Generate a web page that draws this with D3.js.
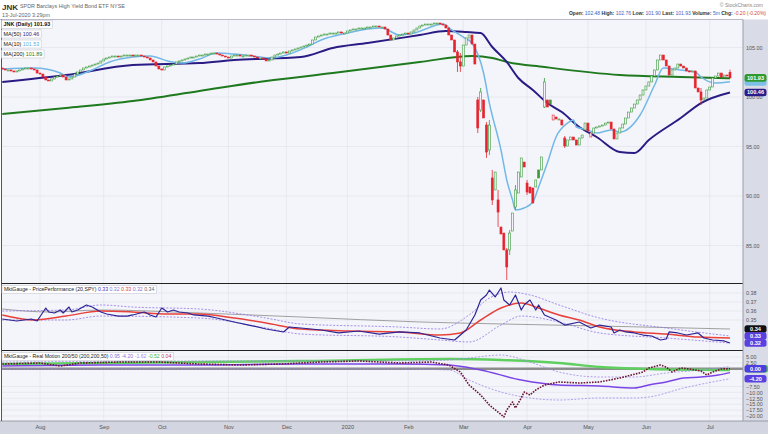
<!DOCTYPE html>
<html>
<head>
<meta charset="utf-8">
<title>JNK</title>
<script src="https://cdn.jsdelivr.net/npm/d3@7/dist/d3.min.js"></script>
<style>
  body { margin: 0; background: #fff; }
  svg { display: block; font-family: "Liberation Sans", Arial, sans-serif; }
</style>
</head>
<body>
<svg id="chart" width="768" height="434"></svg>
<script>
// ---- data (trading day index 0 = 15-Jul-2019, 251 = 13-Jul-2020) ----
const monthLabels = ["Aug", "Sep", "Oct", "Nov", "Dec", "2020", "Feb", "Mar", "Apr", "May", "Jun", "Jul"];
const monthStarts = [13, 35, 55, 78, 98, 119, 140, 159, 181, 202, 222, 244];

const opens = [
  102.93,102.83,102.73,102.73,102.63,102.53,102.63,102.73,102.83,102.93,102.93,102.83,102.73,
  102.42,102.32,102.02,101.72,101.62,
  101.82,102.02,102.12,102.22,102.02,101.72,101.82,
  102.02,102.32,102.53,102.73,102.93,103.03,103.13,103.23,103.33,103.43,
  103.64,103.84,103.94,104.04,104.14,104.14,104.04,104.14,104.24,104.24,104.24,104.14,104.24,104.24,104.14,
  104.04,103.94,103.74,103.54,103.13,102.83,102.73,103.03,
  103.13,103.23,103.33,103.54,103.64,
  103.74,103.84,103.94,104.04,104.04,104.14,104.24,104.24,104.34,104.34,104.44,104.44,
  104.34,104.24,104.14,104.04,
  103.94,104.14,104.24,104.24,104.14,104.14,104.24,104.24,104.14,104.04,
  103.94,103.94,103.84,103.64,
  103.74,104.04,104.24,104.34,104.44,104.55,104.44,
  104.65,104.75,104.85,104.95,105.05,105.15,105.25,
  105.35,105.76,106.06,106.16,106.26,106.36,106.36,
  106.46,106.46,106.46,106.57,106.46,
  106.46,106.67,106.77,106.87,106.87,106.97,106.97,
  106.97,107.07,107.07,107.17,107.17,107.07,
  107.07,106.87,106.26,105.76,
  105.96,106.16,106.26,106.36,106.46,
  106.36,106.57,106.77,106.97,107.17,107.27,107.37,107.37,107.37,107.47,107.47,107.37,
  107.27,106.97,106.26,105.76,104.55,103.54,103.13,105.25,105.96,106.26,105.35,
  99.70,98.69,99.70,97.17,94.65,91.82,90.61,89.60,86.87,86.26,84.55,84.55,86.46,88.89,90.30,91.92,93.43,91.31,90.91,90.81,90.91,92.63,92.63,98.99,99.70,99.70,
  97.68,97.98,97.78,97.68,95.86,95.05,95.66,95.96,95.66,95.15,95.86,96.67,97.37,95.96,96.36,96.87,96.97,97.07,97.17,97.37,97.47,96.77,95.76,96.36,96.87,
  97.27,97.88,98.48,98.89,99.29,99.70,100.20,100.71,101.11,101.52,102.12,102.73,103.74,104.24,103.74,103.13,102.22,102.73,102.93,
  103.33,103.13,102.93,102.63,102.53,102.63,100.91,100.51,99.70,99.90,100.71,101.01,101.92,102.12,102.42,102.02,102.22,102.48
];

const closes = [
  102.83,102.73,102.73,102.63,102.53,102.63,102.73,102.83,102.93,102.93,102.83,102.73,102.42,
  102.32,102.02,101.72,101.62,101.82,
  102.02,102.12,102.22,102.02,101.72,101.82,102.02,
  102.32,102.53,102.73,102.93,103.03,103.13,103.23,103.33,103.43,103.64,
  103.84,103.94,104.04,104.14,104.14,104.04,104.14,104.24,104.24,104.24,104.14,104.24,104.24,104.14,104.04,
  103.94,103.74,103.54,103.13,102.83,102.73,103.03,103.13,
  103.23,103.33,103.54,103.64,103.74,
  103.84,103.94,104.04,104.04,104.14,104.24,104.24,104.34,104.34,104.44,104.44,104.34,
  104.24,104.14,104.04,103.94,
  104.14,104.24,104.24,104.14,104.14,104.24,104.24,104.14,104.04,103.94,
  103.94,103.84,103.64,103.74,
  104.04,104.24,104.34,104.44,104.55,104.44,104.65,
  104.75,104.85,104.95,105.05,105.15,105.25,105.35,
  105.76,106.06,106.16,106.26,106.36,106.36,106.46,
  106.46,106.46,106.57,106.46,106.46,
  106.67,106.77,106.87,106.87,106.97,106.97,106.97,
  107.07,107.07,107.17,107.17,107.07,107.07,
  106.87,106.26,105.76,105.96,
  106.16,106.26,106.36,106.46,106.36,
  106.57,106.77,106.97,107.17,107.27,107.37,107.37,107.37,107.47,107.47,107.37,107.27,
  106.97,106.26,105.76,104.55,103.54,103.13,105.25,105.96,106.26,105.35,103.33,
  96.87,100.51,97.88,94.44,97.17,89.60,92.42,88.38,86.16,84.55,82.83,86.26,88.28,90.61,92.42,93.84,92.93,90.40,90.30,89.29,91.62,91.82,93.94,101.52,98.99,99.29,
  98.18,97.78,97.78,97.17,95.05,95.66,95.96,95.66,95.15,95.86,96.16,97.37,96.57,96.36,96.87,96.97,97.07,97.17,97.37,97.47,96.77,95.76,96.36,96.87,97.27,
  97.88,98.48,98.89,99.29,99.70,100.20,100.71,101.11,101.52,102.12,102.73,103.74,104.24,103.74,103.13,102.22,102.73,102.93,103.33,
  103.13,102.93,102.63,102.53,102.63,100.91,100.51,99.70,99.90,100.71,101.01,101.92,102.12,102.42,102.02,102.22,102.13,101.93
];

// visible wicks only: [day, high, low]
const wicks = [
  [157, 104.75, 102.53], [158, 104.44, 102.53], [164, 100.00, 96.36], [165, 100.91, 98.48],
  [167, 97.47, 93.84], [168, 97.68, 94.14], [169, 92.63, 89.09], [171, 90.61, 86.87],
  [174, 84.75, 81.52], [175, 86.57, 84.04], [177, 91.11, 88.59], [181, 91.62, 90.10],
  [187, 101.92, 98.89], [194, 96.06, 94.85], [241, 100.91, 99.19], [251, 102.76, 101.90]
];

const ma10Day = [0,11,20,23,31,37,45,51,57,62,68,74,80,89,93,98,105,110,119,126,131,137,142,152,155,159,162,166,168,172,174,176,177,180,183,185,188,191,195,197,198,202,205,210,213,220,225,228,234,239,241,246,251];
const ma10Val = [102.83,102.93,102.42,102.02,102.73,103.54,104.04,104.14,103.64,103.43,103.84,104.44,104.34,104.04,103.94,104.24,105.05,105.76,106.46,106.87,106.97,106.26,106.46,107.37,106.77,106.06,105.45,102.42,99.39,94.65,91.62,89.60,88.59,88.79,89.39,90.91,93.33,95.96,97.37,97.68,96.97,96.67,96.36,96.67,96.46,98.18,101.21,102.93,102.73,102.53,102.02,101.41,101.53];

const ma50Day = [0,22,45,68,80,103,114,126,144,153,160,165,169,174,178,183,188,193,199,205,213,218,223,234,241,251];
const ma50Val = [101.52,102.22,103.23,103.43,103.74,104.04,104.95,105.45,106.26,106.67,106.57,106.46,105.05,103.54,101.92,100.71,99.39,98.48,96.97,95.96,94.44,94.34,95.66,97.88,99.39,100.46];

const ma200Day = [0,22,45,68,91,114,144,162,169,174,187,213,234,251];
const ma200Val = [98.28,98.89,99.60,100.61,101.62,102.42,103.54,104.14,103.94,103.54,103.03,102.22,102.02,101.89];

// MktGauge - PricePerformance (20,SPY)
const perfDay = [0,5,10,12,15,16,18,20,21,23,24,26,29,31,34,36,40,43,45,49,51,53,55,57,59,61,64,66,71,74,80,85,91,97,99,103,110,116,123,130,137,144,151,156,160,163,165,167,168,170,172,173,175,177,179,180,182,184,185,187,191,194,199,203,206,210,211,213,215,218,221,224,227,229,230,233,236,240,242,245,249,251];
const perfVal = [0.3511,0.3489,0.3511,0.3489,0.3633,0.3589,0.3578,0.3611,0.3578,0.3644,
  0.3589,0.3611,0.3667,0.3644,0.3589,0.3567,0.3544,0.3544,0.3556,0.3589,
  0.3556,0.3533,0.3633,0.3589,0.3611,0.3589,0.3578,0.3556,0.3544,0.3522,
  0.3478,0.3444,0.3400,0.3367,0.3422,0.3411,0.3389,0.3356,0.3378,0.3344,
  0.3367,0.3356,0.3300,0.3278,0.3389,0.3556,0.3722,0.3778,0.3833,0.3756,
  0.3856,0.3722,0.3667,0.3778,0.3611,0.3667,0.3722,0.3611,0.3667,0.3556,
  0.3500,0.3444,0.3478,0.3411,0.3444,0.3422,0.3356,0.3389,0.3367,0.3356,
  0.3333,0.3322,0.3278,0.3289,0.3367,0.3356,0.3333,0.3356,0.3300,0.3278,
  0.3267,0.3244];
const perfMaDay = [0,11,22,34,45,57,68,80,91,103,120,137,151,158,165,172,179,185,192,199,206,218,229,240,251];
const perfMaVal = [0.3556,0.3500,0.3544,0.3600,0.3589,0.3567,0.3567,0.3522,0.3467,0.3400,0.3378,0.3367,0.3333,0.3356,0.3500,0.3633,0.3689,0.3633,0.3556,0.3500,0.3422,0.3367,0.3344,0.3311,0.3300];
const perfLongDay = [0,16,34,68,103,144,172,206,251];
const perfLongVal = [0.3622,0.3589,0.3611,0.3578,0.3533,0.3478,0.3456,0.3433,0.3400];
const perfUpDay = [0,22,34,45,68,91,103,137,151,161,168,175,182,192,206,229,251];
const perfUpVal = [0.3600,0.3611,0.3667,0.3644,0.3622,0.3522,0.3456,0.3422,0.3400,0.3556,0.3744,0.3811,0.3778,0.3667,0.3522,0.3411,0.3322];
const perfLoDay = [0,22,34,68,91,103,137,151,161,172,179,192,206,229,251];
const perfLoVal = [0.3500,0.3500,0.3544,0.3522,0.3411,0.3344,0.3311,0.3278,0.3256,0.3444,0.3544,0.3478,0.3356,0.3300,0.3244];

// MktGauge - Real Motion 200/50
const motionDay = [0,13,20,27,41,54,68,82,96,110,123,137,148,154,158,161,165,168,171,173,174,176,177,179,180,182,184,187,192,199,206,213,217,221,223,227,229,231,234,237,241,243,245,248,251];
const motionVal = [2.03,2.46,1.19,2.46,2.88,2.88,2.03,1.61,2.03,2.88,3.31,2.46,2.88,1.61,-1.36,-6.86,-11.1,-15.34,-18.31,-20.42,
  -17.46,-14.07,-16.61,-12.37,-9.83,-11.1,-8.98,-6.86,-5.59,-6.02,-5.59,-3.9,-2.63,-1.36,0.34,1.61,0.76,-1.36,0.34,-0.08,
  -0.93,-2.63,-1.36,-0.08,0.04];
const motionMaDay = [0,34,68,103,137,154,165,179,192,206,218,223,229,235,241,247,251];
const motionMaVal = [1.19,1.61,1.61,2.03,2.03,1.61,-0.51,-4.75,-6.86,-7.29,-8.14,-6.86,-5.59,-3.9,-3.47,-2.63,-1.62];
const motionUpDay = [0,68,137,154,161,172,182,192,206,218,229,241,251];
const motionUpVal = [2.88,3.31,3.31,3.73,4.58,5.85,2.88,-1.36,-3.47,-3.47,-1.78,-0.51,0.95];
const motionLoDay = [0,68,137,154,161,172,182,192,206,218,223,235,251];
const motionLoVal = [-0.08,-0.08,-0.08,-0.51,-4.75,-9.83,-12.37,-13.22,-12.37,-12.37,-11.95,-8.14,-4.2];
const motionGreenDay = [0,103,154,172,192,206,223,251];
const motionGreenVal = [2.03,3.31,4.15,3.73,2.46,0.76,-0.08,-0.52];

const mainTicks = [105, 100, 95, 90, 85];
const perfTicks = [0.38, 0.37, 0.36, 0.35];
const motionTicks = [5, 2.5, -7.5, -10, -12.5, -15, -17.5, -20];

// ---- layout ----
const W = 768, H = 434;
const L = 1.5, R = 743;
const panels = {
  main: { top: 19.5, bottom: 283 },
  perf: { top: 284, bottom: 350 },
  motion: { top: 351, bottom: 421 }
};
const BG = "#f4f5fa";

const x = d3.scaleLinear().domain([0, 251]).range([2.3, 730]);
const y = d3.scaleLinear().domain([85, 105]).range([245.5, 47.5]);
const yPerf = d3.scaleLinear().domain([0.35, 0.38]).range([320, 293]);
const yMotion = d3.scaleLinear().domain([-20, 5]).range([416, 357]);

const svg = d3.select("#chart");
svg.append("rect").attr("width", W).attr("height", H).attr("fill", "#fff");
const defs = svg.append("defs");

Object.entries(panels).forEach(([k, p]) => {
  svg.append("rect").attr("x", L).attr("y", p.top).attr("width", R - L).attr("height", p.bottom - p.top).attr("fill", BG);
  defs.append("clipPath").attr("id", "clip-" + k).append("rect")
    .attr("x", L).attr("y", p.top).attr("width", R - L).attr("height", p.bottom - p.top);
});

svg.append("rect").attr("x", R).attr("y", 19.5).attr("width", W - R).attr("height", 401.5).attr("fill", "#d9dce6");
svg.append("rect").attr("x", 0).attr("y", 421).attr("width", W).attr("height", H - 421).attr("fill", "#d3d6e0");

// grid
const grid = svg.append("g").attr("stroke", "#dfe1ea").attr("stroke-width", 0.6);
grid.selectAll("line.v").data(monthStarts).join("line")
  .attr("x1", d => x(d)).attr("x2", d => x(d)).attr("y1", 19.5).attr("y2", 421);
grid.selectAll("line.hm").data(mainTicks).join("line")
  .attr("x1", L).attr("x2", R).attr("y1", d => y(d)).attr("y2", d => y(d));
svg.append("g").attr("stroke", "#dfe1ea").attr("stroke-width", 0.6)
  .selectAll("line").data(perfTicks).join("line")
  .attr("x1", L).attr("x2", R).attr("y1", d => yPerf(d)).attr("y2", d => yPerf(d));
svg.append("g").attr("stroke", "#dfe1ea").attr("stroke-width", 0.6)
  .selectAll("line").data(motionTicks).join("line")
  .attr("x1", L).attr("x2", R).attr("y1", d => yMotion(d)).attr("y2", d => yMotion(d));

function drawLine(g, days, vals, scale, o) {
  const line = d3.line().x(d => x(d[0])).y(d => scale(d[1])).curve(o.curve || d3.curveMonotoneX);
  g.append("path").datum(d3.zip(days, vals))
    .attr("fill", "none").attr("stroke", o.color).attr("stroke-width", o.width)
    .attr("stroke-dasharray", o.dash || null).attr("stroke-linejoin", "round")
    .attr("d", line);
}

// ---- main price panel ----
const gMain = svg.append("g").attr("clip-path", "url(#clip-main)");
drawLine(gMain, ma200Day, ma200Val, y, { color: "#1f7a1f", width: 2 });
drawLine(gMain, ma50Day, ma50Val, y, { color: "#2a1c84", width: 2 });
drawLine(gMain, ma10Day, ma10Val, y, { color: "#72b8e6", width: 1.5 });

const candles = closes.map((c, i) => ({ i, o: opens[i], c, prev: i ? closes[i - 1] : opens[i] }));
const up = "#3a9a3a", down = "#e5232e";
const colorOf = d => d.c >= d.prev ? up : down;

gMain.selectAll("line.wick").data(wicks).join("line")
  .attr("x1", d => x(d[0])).attr("x2", d => x(d[0]))
  .attr("y1", d => y(d[1])).attr("y2", d => y(d[2]))
  .attr("stroke", d => colorOf(candles[d[0]])).attr("stroke-width", 0.8);

gMain.selectAll("rect.body").data(candles).join("rect")
  .attr("x", d => x(d.i) - 1).attr("width", 2)
  .attr("y", d => y(Math.max(d.o, d.c)))
  .attr("height", d => Math.max(1, Math.abs(y(d.o) - y(d.c))))
  .attr("fill", d => d.c < d.o ? colorOf(d) : BG)
  .attr("stroke", colorOf).attr("stroke-width", 0.6);

// ---- price performance panel ----
const gPerf = svg.append("g").attr("clip-path", "url(#clip-perf)");
drawLine(gPerf, perfLongDay, perfLongVal, yPerf, { color: "#8a8a8a", width: 0.8 });
drawLine(gPerf, perfUpDay, perfUpVal, yPerf, { color: "#9275e6", width: 0.8, dash: "2,1.5" });
drawLine(gPerf, perfLoDay, perfLoVal, yPerf, { color: "#9275e6", width: 0.8, dash: "2,1.5" });
drawLine(gPerf, perfMaDay, perfMaVal, yPerf, { color: "#e8413b", width: 1.5 });
drawLine(gPerf, perfDay, perfVal, yPerf, { color: "#2d2596", width: 1.2, curve: d3.curveLinear });

// ---- real motion panel ----
const gMot = svg.append("g").attr("clip-path", "url(#clip-motion)");
gMot.append("line").attr("x1", L).attr("x2", R).attr("y1", yMotion(0)).attr("y2", yMotion(0))
  .attr("stroke", "#8c8c8c").attr("stroke-width", 2.4);
drawLine(gMot, motionGreenDay, motionGreenVal, yMotion, { color: "#5fcf5f", width: 2.4 });
drawLine(gMot, motionUpDay, motionUpVal, yMotion, { color: "#a08ae8", width: 0.8, dash: "2,1.5" });
drawLine(gMot, motionLoDay, motionLoVal, yMotion, { color: "#a08ae8", width: 0.8, dash: "2,1.5" });
drawLine(gMot, motionMaDay, motionMaVal, yMotion, { color: "#7b45e6", width: 1.5 });
drawLine(gMot, motionDay, motionVal, yMotion, { color: "#6b1634", width: 1.6, dash: "1.6,1.2", curve: d3.curveLinear });

// ---- borders ----
const border = svg.append("g").attr("fill", "none");
border.append("line").attr("x1", 0).attr("x2", R).attr("y1", 19.5).attr("y2", 19.5).attr("stroke", "#aab").attr("stroke-width", 0.8);
border.append("line").attr("x1", L).attr("x2", R).attr("y1", 283.5).attr("y2", 283.5).attr("stroke", "#222").attr("stroke-width", 1);
border.append("line").attr("x1", L).attr("x2", R).attr("y1", 350.5).attr("y2", 350.5).attr("stroke", "#222").attr("stroke-width", 1);
border.append("line").attr("x1", 0).attr("x2", W).attr("y1", 421).attr("y2", 421).attr("stroke", "#8a8d99").attr("stroke-width", 0.8);
border.append("line").attr("x1", L).attr("x2", L).attr("y1", 19.5).attr("y2", 421).attr("stroke", "#555").attr("stroke-width", 1);
border.append("line").attr("x1", R).attr("x2", R).attr("y1", 19.5).attr("y2", 421).attr("stroke", "#9a9dab").attr("stroke-width", 1);

// ---- axes ----
function rightAxis(scale, values, fmt) {
  const g = svg.append("g").attr("transform", `translate(${R + 1.5},0)`)
    .call(d3.axisRight(scale).tickValues(values).tickSize(0).tickPadding(1.5).tickFormat(fmt));
  g.select(".domain").remove();
  g.attr("font-size", 5.4).attr("font-family", "Liberation Sans, Arial, sans-serif").attr("color", "#555");
}
rightAxis(y, mainTicks, d3.format(".2f"));
rightAxis(yPerf, perfTicks, d3.format(".2f"));
rightAxis(yMotion, motionTicks, d3.format(".2f"));

const xAxis = svg.append("g").attr("transform", "translate(0,421)")
  .call(d3.axisBottom(x).tickValues(monthStarts).tickSize(0).tickPadding(4).tickFormat((d, i) => monthLabels[i]));
xAxis.select(".domain").remove();
xAxis.attr("font-size", 5.6).attr("font-family", "Liberation Sans, Arial, sans-serif").attr("color", "#555");

function valueBox(yPos, label, fill, dx = 0) {
  const g = svg.append("g").attr("transform", `translate(${R + 1.5 + dx},${yPos})`);
  g.append("rect").attr("x", 0).attr("y", -3.8).attr("width", 22).attr("height", 7.6).attr("rx", 2.5).attr("fill", fill);
  g.append("text").attr("x", 11).attr("y", 2).attr("text-anchor", "middle")
    .attr("font-size", 5.6).attr("font-weight", "bold").attr("fill", "#fff").text(label);
}
const last = a => a[a.length - 1];
valueBox(y(last(ma10Val)), "", "#7cc0ea");
valueBox(y(last(closes)), last(closes).toFixed(2), "#2e9a2e");
valueBox(y(last(ma50Val)), last(ma50Val).toFixed(2), "#2a1d8a");
valueBox(yPerf(last(perfLongVal)), last(perfLongVal).toFixed(2), "#111");
valueBox(yPerf(last(perfUpVal)), last(perfUpVal).toFixed(2), "#5a40e0");
valueBox(yPerf(last(perfLoVal)), last(perfLoVal).toFixed(2), "#5a40e0");
valueBox(yMotion(0), "", "#4cc04c", 1.5);
valueBox(yMotion(0), "0.00", "#4b3de0");
valueBox(yMotion(last(motionLoVal)), last(motionLoVal).toFixed(2), "#5a40e0");

// ---- header ----
const head = svg.append("g");
head.append("text").attr("x", 2).attr("y", 9.5).attr("font-size", 8).attr("font-weight", "bold").attr("fill", "#333").text("JNK");
head.append("text").attr("x", 20).attr("y", 8).attr("font-size", 5.4).attr("fill", "#666")
  .text("SPDR Barclays High Yield Bond ETF   NYSE");
head.append("text").attr("x", 2).attr("y", 17).attr("font-size", 5.4).attr("fill", "#666").text("13-Jul-2020 3:29pm");
head.append("text").attr("x", 763).attr("y", 7).attr("text-anchor", "end").attr("font-size", 5).attr("fill", "#888").text("© StockCharts.com");

const quote = head.append("text").attr("x", 766).attr("y", 14.5).attr("text-anchor", "end").attr("font-size", 5);
[["Open: ", "102.48 "], ["High: ", "102.76 "], ["Low: ", "101.90 "], ["Last: ", "101.93 "], ["Volume: ", "5m "], ["Chg: ", "-0.20 (-0.20%)"]]
  .forEach(([k, v], i) => {
    quote.append("tspan").attr("font-weight", "bold").attr("fill", "#333").text(k);
    quote.append("tspan").attr("fill", i === 5 ? "#d04848" : "#3a5fc0").text(v);
  });

// ---- legends ----
function legendBox(x0, y0, parts, fs = 5.4) {
  const g = svg.append("g");
  const bg = g.append("rect").attr("x", x0).attr("y", y0).attr("height", 8).attr("fill", "#fff")
    .attr("stroke", "#c8cad4").attr("stroke-width", 0.6);
  const t = g.append("text").attr("x", x0 + 2).attr("y", y0 + 5.8).attr("font-size", fs);
  parts.forEach(p => t.append("tspan").attr("fill", p[1]).attr("font-weight", p[2] || null).text(p[0]));
  bg.attr("width", t.node().getComputedTextLength() + 4);
}
legendBox(1.5, 20.5, [["JNK (Daily) ", "#111", "bold"], [last(closes).toFixed(2), "#111", "bold"]]);
legendBox(1.5, 30, [["MA(50) ", "#111"], [last(ma50Val).toFixed(2), "#2a1c84"]]);
legendBox(1.5, 40, [["MA(10) ", "#111"], [last(ma10Val).toFixed(2), "#5aaee0"]]);
legendBox(1.5, 50, [["MA(200) ", "#111"], [last(ma200Val).toFixed(2), "#1f7a1f"]]);

legendBox(2, 285.5, [["MktGauge - PricePerformance (20,SPY) ", "#222"], ["0.33 ", "#3b2fc0"], ["0.32 ", "#8a70e0"],
  ["0.33 ", "#e04040"], ["0.32 ", "#8a70e0"], ["0.34", "#666"]], 5.2);
legendBox(2, 352.5, [["MktGauge - Real Motion 200/50 (200,200,50) ", "#222"], ["0.95 ", "#8a70e0"], ["-4.20 ", "#8a70e0"],
  ["-1.62 ", "#9a88f0"], ["-0.52 ", "#3cb83c"], ["0.04", "#c04060"]], 5.2);
</script>
</body>
</html>
